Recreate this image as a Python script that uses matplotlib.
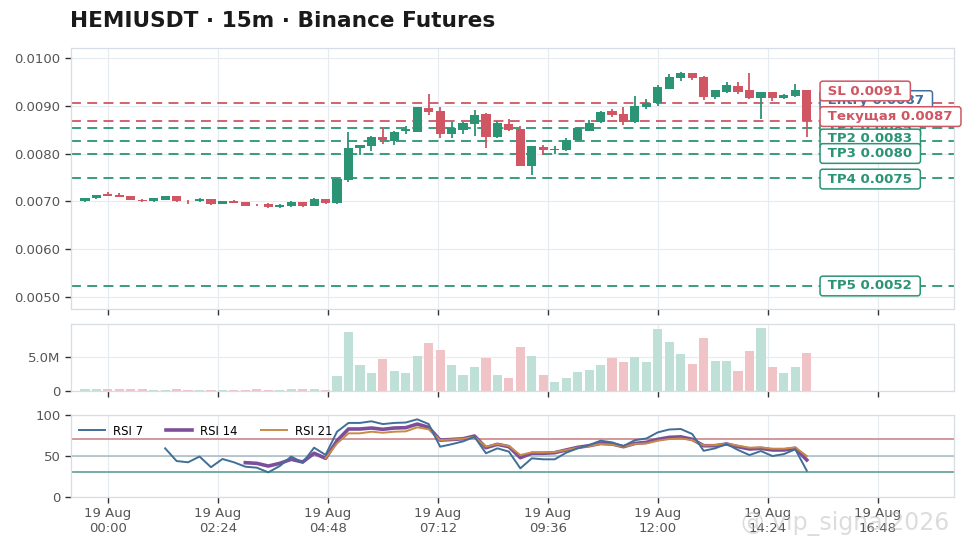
import numpy as np
import pandas as pd
import matplotlib
matplotlib.use("Agg")
import matplotlib.pyplot as plt
import matplotlib.dates as mdates

plt.rcParams['font.family'] = ['DejaVu Sans']

# ---------------- data ----------------
start_time = "2025-08-18 23:30"
opens = [0.00701, 0.00706, 0.00716, 0.00713, 0.00711, 0.00703, 0.00700, 0.00703, 0.00711, 0.00701,
         0.00700, 0.00704, 0.00695, 0.00700, 0.00698, 0.00693, 0.00695, 0.00688, 0.00690, 0.00698,
         0.00691, 0.00704, 0.00696, 0.00745, 0.00812, 0.00815, 0.00834, 0.00826, 0.00848, 0.00845,
         0.00896, 0.00888, 0.00841, 0.00849, 0.00861, 0.00883, 0.00834, 0.00861, 0.00851, 0.00774,
         0.00813, 0.00807, 0.00807, 0.00828, 0.00848, 0.00865, 0.00888, 0.00882, 0.00865, 0.00897,
         0.00905, 0.00935, 0.00958, 0.00968, 0.00960, 0.00918, 0.00928, 0.00942, 0.00932, 0.00916,
         0.00928, 0.00917, 0.00920, 0.00932]
highs = [0.00707, 0.00714, 0.00719, 0.00718, 0.00712, 0.00704, 0.00707, 0.00712, 0.00712, 0.00702,
         0.00706, 0.00705, 0.00701, 0.00703, 0.00699, 0.00695, 0.00696, 0.00694, 0.00701, 0.00699,
         0.00708, 0.00705, 0.00748, 0.00845, 0.00818, 0.00836, 0.00853, 0.00848, 0.00858, 0.00898,
         0.00925, 0.00897, 0.00865, 0.00866, 0.00892, 0.00884, 0.00868, 0.00873, 0.00857, 0.00816,
         0.00818, 0.00815, 0.00832, 0.00856, 0.00870, 0.00888, 0.00894, 0.00897, 0.00920, 0.00913,
         0.00944, 0.00967, 0.00971, 0.00969, 0.00961, 0.00933, 0.00949, 0.00949, 0.00968, 0.00929,
         0.00929, 0.00924, 0.00946, 0.00933]
lows = [0.00699, 0.00705, 0.00711, 0.00709, 0.00702, 0.00698, 0.00698, 0.00702, 0.00699, 0.00695,
        0.00699, 0.00693, 0.00694, 0.00696, 0.00690, 0.00691, 0.00687, 0.00687, 0.00689, 0.00689,
        0.00690, 0.00695, 0.00695, 0.00741, 0.00797, 0.00806, 0.00820, 0.00818, 0.00840, 0.00844,
        0.00880, 0.00833, 0.00833, 0.00840, 0.00836, 0.00811, 0.00833, 0.00848, 0.00773, 0.00755,
        0.00797, 0.00800, 0.00805, 0.00826, 0.00847, 0.00864, 0.00877, 0.00859, 0.00864, 0.00893,
        0.00899, 0.00934, 0.00952, 0.00953, 0.00912, 0.00913, 0.00927, 0.00924, 0.00913, 0.00872,
        0.00910, 0.00915, 0.00918, 0.00835]
closes = [0.00706, 0.00713, 0.00712, 0.00710, 0.00703, 0.00700, 0.00706, 0.00711, 0.00700, 0.00700,
          0.00704, 0.00694, 0.00700, 0.00697, 0.00691, 0.00692, 0.00688, 0.00692, 0.00699, 0.00690,
          0.00705, 0.00696, 0.00746, 0.00811, 0.00817, 0.00834, 0.00828, 0.00846, 0.00851, 0.00897,
          0.00887, 0.00841, 0.00854, 0.00863, 0.00881, 0.00834, 0.00863, 0.00850, 0.00774, 0.00815,
          0.00808, 0.00809, 0.00829, 0.00854, 0.00864, 0.00886, 0.00881, 0.00865, 0.00900, 0.00906,
          0.00939, 0.00960, 0.00969, 0.00958, 0.00918, 0.00932, 0.00944, 0.00929, 0.00916, 0.00928,
          0.00917, 0.00923, 0.00932, 0.00867]
volumes_m = [0.30, 0.30, 0.35, 0.30, 0.30, 0.30, 0.15, 0.15, 0.30, 0.10,
             0.15, 0.10, 0.10, 0.15, 0.10, 0.30, 0.10, 0.10, 0.25, 0.25,
             0.25, 0.10, 2.2, 8.75, 3.8, 2.7, 4.7, 2.9, 2.6, 5.15,
             7.1, 6.0, 3.8, 2.3, 3.6, 4.9, 2.3, 1.9, 6.5, 5.15,
             2.3, 1.35, 1.9, 2.8, 3.1, 3.8, 4.85, 4.3, 4.95, 4.3,
             9.15, 7.3, 5.5, 3.95, 7.8, 4.45, 4.45, 2.95, 5.9, 9.3,
             3.6, 2.7, 3.6, 5.6]
rsi7 = [None] * 7 + [59, 43.5, 42, 49, 36, 46, 42, 36.6, 35.4, 29.7,
        37.4, 49, 41.5, 59.8, 51, 79.3, 90, 90, 92, 88.6,
        90, 90.5, 94.4, 88.6, 61, 64, 67.5, 73, 53, 59,
        55, 34.6, 46.8, 45.6, 45.6, 53.7, 59, 63, 68.3, 66.3,
        61.8, 69, 71, 78.5, 82, 82.6, 76.5, 56, 59, 64.3,
        57, 50.8, 55.7, 49.6, 52, 57.8, 31.7]
rsi14 = [None] * 14 + [41.5, 40.7, 37.4, 40.7, 45.6, 42.3, 53, 46.8, 68.3, 82.6,
         82.6, 83.8, 82.2, 83.8, 84.2, 88.6, 84.6, 69, 69.8, 70.7,
         74, 59.8, 63.9, 61, 47.6, 53, 53, 53.7, 57, 60.2,
         62.2, 65, 64.3, 61, 65, 66.3, 70, 72.4, 73, 70,
         62.2, 62.2, 64.3, 61, 58.2, 59, 57, 57, 59, 44.8]
rsi21 = [None] * 21 + [47, 65, 77.3, 77.3, 79.3, 78, 79.3, 79.7, 84.6, 82.2,
         69, 69.8, 70.7, 73, 61, 64.3, 61.8, 50.8, 54, 54,
         54.5, 57, 59.8, 61.8, 64.3, 63.5, 61, 64.3, 65, 68.3,
         70.3, 71, 69, 62.6, 63, 64.7, 62.2, 59.8, 60.2, 58.6,
         58.6, 60.2, 49.6]

level_names = ["Entry", "TP1", "TP2", "TP3", "TP4", "TP5", "SL", "Текущая"]
level_values = [0.0087, 0.00853, 0.00826, 0.0080, 0.00748, 0.00523, 0.00906, 0.00867]
level_labels = ["Entry 0.0087", "TP1 0.0085", "TP2 0.0083", "TP3 0.0080",
                "TP4 0.0075", "TP5 0.0052", "SL 0.0091", "Текущая 0.0087"]
# label vertical offsets (points) used to avoid overlap
label_offsets = [14, 0, 1.5, 0, -0.5, 0, 8.5, 3.5]

x_tick_times = ["2025-08-19 00:00", "2025-08-19 02:24", "2025-08-19 04:48", "2025-08-19 07:12",
                "2025-08-19 09:36", "2025-08-19 12:00", "2025-08-19 14:24", "2025-08-19 16:48"]

# ---------------- style ----------------
GREEN = "#2a9474"
RED = "#cf5662"
BLUE = "#3f6f9f"
GRID = "#e6ebf0"
SPINE = "#d6dde5"
TICKC = "#555555"

times = pd.date_range(start_time, periods=len(opens), freq="15min")
x = mdates.date2num(times.to_pydatetime())
dt = x[1] - x[0]
o = np.array(opens); h = np.array(highs); l = np.array(lows); c = np.array(closes)
up = c >= o
cols = np.where(up, GREEN, RED)

fig = plt.figure(figsize=(9.71, 5.48), dpi=100)
L, R = 0.0731, 0.9825
ax = fig.add_axes([L, 0.4356, R - L, 0.9119 - 0.4356])
axv = fig.add_axes([L, 0.2865, R - L, 0.4082 - 0.2865], sharex=ax)
axr = fig.add_axes([L, 0.0936, R - L, 0.2432 - 0.0936], sharex=ax)

for a in (ax, axv, axr):
    a.set_facecolor("white")
    a.grid(True, color=GRID, lw=0.8)
    a.set_axisbelow(True)
    for s in a.spines.values():
        s.set_color(SPINE)
        s.set_linewidth(0.9)
    a.tick_params(axis="both", colors="#333333", labelcolor=TICKC, labelsize=9.5,
                  length=4, width=1.0)

# candles
ax.vlines(x, l, h, colors=cols, lw=1.3, zorder=3)
body_w = dt * 0.8
body_h = np.abs(c - o)
body_h = np.where(body_h < 0.000012, 0.000012, body_h)
ax.bar(x, body_h, bottom=np.minimum(o, c), width=body_w, color=cols, zorder=4, linewidth=0)

ax.set_ylim(0.004743, 0.01020)
ax.set_yticks([0.005, 0.006, 0.007, 0.008, 0.009, 0.010])
ax.yaxis.set_major_formatter(matplotlib.ticker.FuncFormatter(lambda v, p: f"{v:.4f}"))

# levels
label_x = x[-1] + dt * 1.45
for name, val, txt, off in zip(level_names, level_values, level_labels, label_offsets):
    if name == "Entry":
        lc = BLUE
    elif name.startswith("TP"):
        lc = GREEN
    else:
        lc = RED
    if name != "Entry":
        ax.axhline(val, color=lc, lw=1.3, ls=(0, (5.5, 3.5)), zorder=2)
    ax.annotate(" " + txt + " ", xy=(label_x, val), xytext=(0, off), textcoords="offset points",
                ha="left", va="center", fontsize=9.6, fontweight="bold", color=lc,
                bbox=dict(boxstyle="round,pad=0.25,rounding_size=0.2", fc="white", ec=lc, lw=1.1),
                zorder=6, annotation_clip=False)

# volume
vcols = np.where(up, "#bfe0d6", "#f0c3c7")
axv.bar(x, np.array(volumes_m) * 1e6, width=body_w, color=vcols, linewidth=0, zorder=2)
axv.set_ylim(0, 9.85e6)
axv.set_yticks([0, 5e6])
axv.set_yticklabels(["0", "5.0M"])

# RSI
def arr(v):
    return np.array([np.nan if q is None else q for q in v], dtype=float)

axr.axhline(70, color="#d09094", lw=1.3, zorder=2)
axr.axhline(50, color="#a5bcc1", lw=1.1, zorder=2)
axr.axhline(30, color="#6aa69b", lw=1.3, zorder=2)
axr.plot(x, arr(rsi7), color="#3f6f98", lw=1.4, label="RSI 7", zorder=5)
axr.plot(x, arr(rsi14), color="#7d4f9b", lw=2.6, label="RSI 14", zorder=4)
axr.plot(x, arr(rsi21), color="#c98a45", lw=1.4, label="RSI 21", zorder=4)
axr.set_ylim(0, 100)
axr.set_yticks([0, 50, 100])
leg = axr.legend(loc="upper left", ncol=3, frameon=False, fontsize=8.4,
                 handlelength=2.2, handletextpad=0.7, columnspacing=2.0,
                 borderaxespad=0.3, bbox_to_anchor=(0.0, 0.98))

ticks = mdates.date2num(pd.to_datetime(x_tick_times).to_pydatetime())
axr.set_xticks(ticks)
axr.xaxis.set_major_formatter(mdates.DateFormatter("%d %b\n%H:%M"))
ax.set_xlim(x[0] - 1.22 * dt, x[-1] + 12.85 * dt)
plt.setp(ax.get_xticklabels(), visible=False)
plt.setp(axv.get_xticklabels(), visible=False)

fig.text(L - 0.001, 0.962, "HEMIUSDT · 15m · Binance Futures", fontsize=15.6,
         fontweight="bold", color="#1a1a1a", ha="left", va="center")

fig.text(0.87, 0.045, "@ vip_signal2026", fontsize=17, color="#bbbbbb", alpha=0.5,
         ha="center", va="center")

fig.savefig("out.png", dpi=100)
